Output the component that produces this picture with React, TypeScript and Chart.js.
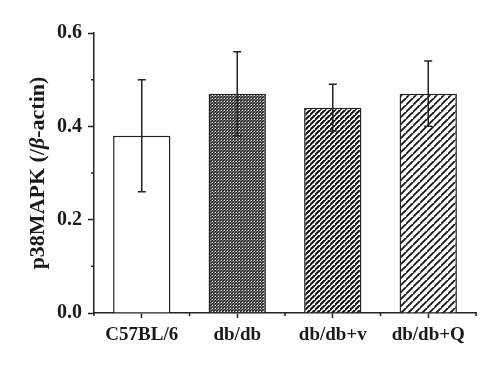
import React, { useEffect, useRef } from "react";
import { Chart, registerables } from "chart.js";

Chart.register(...registerables);

const categories = ["C57BL/6", "db/db", "db/db+v", "db/db+Q"];
const means = [0.38, 0.47, 0.44, 0.47];
const errLow = [0.26, 0.38, 0.39, 0.40];
const errHigh = [0.50, 0.56, 0.49, 0.54];
const yTicks = [0.0, 0.2, 0.4, 0.6];
const yMinorTicks = [0.1, 0.3, 0.5];

const FONT = "'Liberation Serif', 'Times New Roman', serif";

function makeHatch(spacing: number, lineWidth: number, color: string): CanvasPattern | string {
  const c = document.createElement("canvas");
  c.width = spacing;
  c.height = spacing;
  const ctx = c.getContext("2d");
  if (!ctx) return "#fff";
  ctx.fillStyle = "#fff";
  ctx.fillRect(0, 0, spacing, spacing);
  ctx.strokeStyle = color;
  ctx.lineWidth = lineWidth;
  ctx.lineCap = "square";
  ctx.beginPath();
  ctx.moveTo(0, spacing);
  ctx.lineTo(spacing, 0);
  ctx.moveTo(-spacing, spacing);
  ctx.lineTo(0, 0);
  ctx.moveTo(spacing, 2 * spacing);
  ctx.lineTo(2 * spacing, spacing);
  ctx.stroke();
  const p = ctx.createPattern(c, "repeat");
  return p || "#fff";
}

const extrasPlugin = {
  id: "extras",
  afterDraw(chart: any) {
    const ctx = chart.ctx as CanvasRenderingContext2D;
    const xs = chart.scales.x;
    const ys = chart.scales.y;
    const area = chart.chartArea;
    ctx.save();
    ctx.strokeStyle = "#222";
    ctx.lineWidth = 1.5;
    // y minor ticks
    ctx.beginPath();
    yMinorTicks.forEach((v) => {
      const y = ys.getPixelForValue(v);
      ctx.moveTo(area.left - 3, y);
      ctx.lineTo(area.left, y);
    });
    // x boundary minor ticks
    for (let i = 0; i <= categories.length; i++) {
      const x = xs.getPixelForValue(i - 0.5);
      ctx.moveTo(x, area.bottom);
      ctx.lineTo(x, area.bottom + 3);
    }
    ctx.stroke();

    // error bars
    const meta = chart.getDatasetMeta(0);
    ctx.beginPath();
    meta.data.forEach((bar: any, i: number) => {
      const x = bar.x;
      const yl = ys.getPixelForValue(errLow[i]);
      const yh = ys.getPixelForValue(errHigh[i]);
      ctx.moveTo(x, yl);
      ctx.lineTo(x, yh);
      ctx.moveTo(x - 4, yh);
      ctx.lineTo(x + 4, yh);
      ctx.moveTo(x - 4, yl);
      ctx.lineTo(x + 4, yl);
    });
    ctx.stroke();

    // y axis title with italic beta
    const size = 22;
    const parts: [string, string][] = [
      ["p38MAPK (/", `bold ${size}px ${FONT}`],
      ["β", `italic bold ${size}px ${FONT}`],
      ["-actin)", `bold ${size}px ${FONT}`],
    ];
    let total = 0;
    parts.forEach(([t, f]) => {
      ctx.font = f;
      total += ctx.measureText(t).width;
    });
    const cx = 38;
    const cy = (area.top + area.bottom) / 2;
    ctx.translate(cx, cy);
    ctx.rotate(-Math.PI / 2);
    ctx.fillStyle = "#1a1a1a";
    ctx.textBaseline = "middle";
    ctx.textAlign = "left";
    let x0 = -total / 2;
    parts.forEach(([t, f]) => {
      ctx.font = f;
      ctx.fillText(t, x0, 0);
      x0 += ctx.measureText(t).width;
    });
    ctx.restore();
  },
};

export default function App() {
  const ref = useRef<HTMLCanvasElement>(null);
  useEffect(() => {
    document.body.style.margin = "0";
    const canvas = ref.current;
    if (!canvas) return;
    const fills = [
      "#ffffff",
      makeHatch(3, 1.6, "#1e1e1e"),
      makeHatch(5, 2.0, "#111"),
      makeHatch(7, 1.7, "#111"),
    ];
    const chart = new Chart(canvas, {
      type: "bar",
      data: {
        labels: categories,
        datasets: [
          {
            data: means,
            backgroundColor: fills as any,
            borderColor: "#222",
            borderWidth: 1.5,
            barPercentage: 0.6,
            categoryPercentage: 1,
          },
        ],
      },
      options: {
        responsive: false,
        animation: false,
        layout: { padding: { left: 0, right: 24, top: 33, bottom: 0 } },
        plugins: { legend: { display: false }, tooltip: { enabled: false } },
        scales: {
          x: {
            offset: true,
            grid: {
              offset: false,
              drawOnChartArea: false,
              drawTicks: true,
              tickLength: 5,
              tickWidth: 1.5,
              color: "#222",
            },
            border: { display: true, color: "#222", width: 1.5 },
            ticks: {
              color: "#1a1a1a",
              font: { family: FONT, size: 19, weight: "bold" },
              padding: 6,
              maxRotation: 0,
            },
            afterFit: (s: any) => {
              s.height = 53;
            },
          },
          y: {
            min: 0,
            max: 0.6,
            afterBuildTicks: (s: any) => {
              s.ticks = yTicks.map((v) => ({ value: v }));
            },
            grid: {
              drawOnChartArea: false,
              drawTicks: true,
              tickLength: 6,
              tickWidth: 1.5,
              color: "#222",
            },
            border: { display: true, color: "#222", width: 1.5 },
            ticks: {
              color: "#1a1a1a",
              font: { family: FONT, size: 20, weight: "bold" },
              padding: 6,
              callback: (v: any) => Number(v).toFixed(1),
            },
            afterFit: (s: any) => {
              s.width = 94;
            },
          },
        },
      },
      plugins: [extrasPlugin],
    });
    return () => chart.destroy();
  }, []);
  return (
    <div style={{ width: 500, height: 366, background: "#fff" }}>
      <canvas ref={ref} width={500} height={366} style={{ display: "block" }} />
    </div>
  );
}
